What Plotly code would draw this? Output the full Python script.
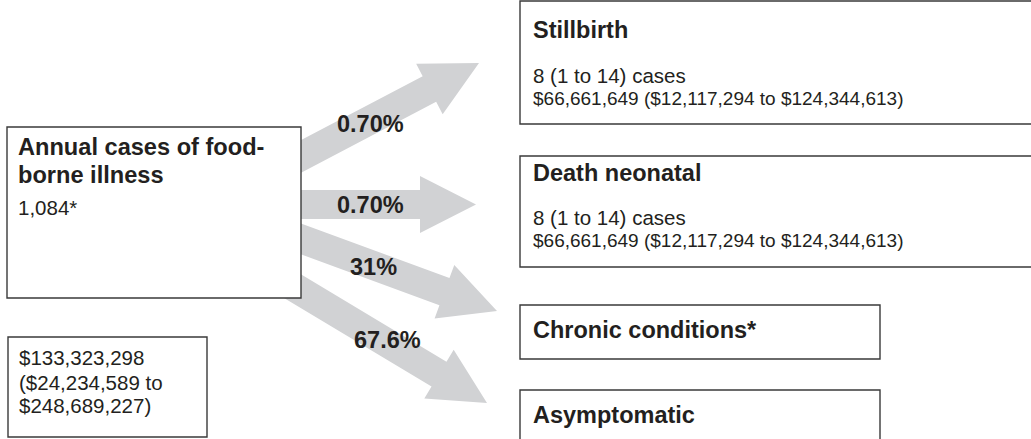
import math
import plotly.graph_objects as go

# ---------------- data ----------------
source_title_lines = ["Annual cases of food-", "borne illness"]
source_cases = "1,084*"
source_cost_lines = ["$133,323,298", "($24,234,589 to", "$248,689,227)"]

outcome_names = ["Stillbirth", "Death neonatal", "Chronic conditions*", "Asymptomatic"]
outcome_pct = ["0.70%", "0.70%", "31%", "67.6%"]
outcome_cases = ["8 (1 to 14) cases", "8 (1 to 14) cases", "", ""]
outcome_costs = ["$66,661,649 ($12,117,294 to $124,344,613)",
                 "$66,661,649 ($12,117,294 to $124,344,613)", "", ""]

# ---------------- layout geometry (pixels, y downward) ----------------
W, H = 1031, 439
TXT = "#231f20"
GRAY = "#d1d2d4"
BORDER = "#3a3a3a"
FONT = "Liberation Sans, Arial, Helvetica, sans-serif"

main_box = (7, 127, 301, 298)
cost_box = (8, 337, 207, 437)
outcome_boxes = [(520, 1, 1045, 124), (520, 156, 1045, 267),
                 (520, 305, 880, 359), (520, 390, 880, 450)]
arrow_tips = [(479, 63), (476, 204.5), (497, 311), (487, 403)]
arrow_angles = [-27.7, 0.0, 20.2, 31.0]
label_pos = [(370, 124), (370, 205), (373, 267), (387, 340)]
title_y = [30, 173, 330, 415]
cases_y = [75, 217, None, None]
cost_y = [98, 240, None, None]

HEAD_L, HEAD_W, SHAFT_W, TAIL_X = 56, 57, 29, 230

fig = go.Figure()
shapes = []
annotations = []


def arrow_path(tip, ang):
    a = math.radians(ang)
    ux, uy = math.cos(a), math.sin(a)
    nx, ny = -uy, ux
    tx, ty = tip
    bx, by = tx - HEAD_L * ux, ty - HEAD_L * uy
    k = (bx - TAIL_X) / ux
    sx, sy = bx - k * ux, by - k * uy
    pts = [
        (sx + SHAFT_W / 2 * nx, sy + SHAFT_W / 2 * ny),
        (bx + SHAFT_W / 2 * nx, by + SHAFT_W / 2 * ny),
        (bx + HEAD_W / 2 * nx, by + HEAD_W / 2 * ny),
        (tx, ty),
        (bx - HEAD_W / 2 * nx, by - HEAD_W / 2 * ny),
        (bx - SHAFT_W / 2 * nx, by - SHAFT_W / 2 * ny),
        (sx - SHAFT_W / 2 * nx, sy - SHAFT_W / 2 * ny),
    ]
    return "M " + " L ".join(f"{x:.2f},{y:.2f}" for x, y in pts) + " Z"


for tip, ang in zip(arrow_tips, arrow_angles):
    shapes.append(dict(type="path", path=arrow_path(tip, ang), xref="x", yref="y",
                       fillcolor=GRAY, line=dict(width=0), layer="above"))


def box(b):
    shapes.append(dict(type="rect", x0=b[0], y0=b[1], x1=b[2], y1=b[3], xref="x", yref="y",
                       fillcolor="white", line=dict(color=BORDER, width=1.4), layer="above"))


box(main_box)
box(cost_box)
for b in outcome_boxes:
    box(b)


def text(x, y, s, size, bold=False, anchor="left"):
    annotations.append(dict(x=x, y=y, xref="x", yref="y", text=f"<b>{s}</b>" if bold else s,
                            showarrow=False, xanchor=anchor, yanchor="middle",
                            font=dict(family=FONT, size=size, color=TXT)))


# source box text
for s, y in zip(source_title_lines, [147, 175]):
    text(16, y, s, 23.6, bold=True)
text(16, 207, source_cases, 20.5)
for s, y in zip(source_cost_lines, [357, 382, 405]):
    text(17, y, s, 20.5)

# percentages
for s, (x, y) in zip(outcome_pct, label_pos):
    text(x, y, s, 23.5, bold=True, anchor="center")

# outcome boxes
for i, name in enumerate(outcome_names):
    text(531, title_y[i], name, 23.5, bold=True)
    if outcome_cases[i]:
        text(531, cases_y[i], outcome_cases[i], 20.5)
    if outcome_costs[i]:
        text(531, cost_y[i], outcome_costs[i], 19)

fig.update_layout(
    width=W, height=H,
    margin=dict(l=0, r=0, t=0, b=0),
    paper_bgcolor="white", plot_bgcolor="white",
    xaxis=dict(range=[0, W], visible=False, fixedrange=True),
    yaxis=dict(range=[H, 0], visible=False, fixedrange=True),
    shapes=shapes, annotations=annotations, showlegend=False,
)

fig.write_html("out.html", config={"displayModeBar": False},
               post_script="document.body.style.margin='0';document.body.style.overflow='hidden';")
